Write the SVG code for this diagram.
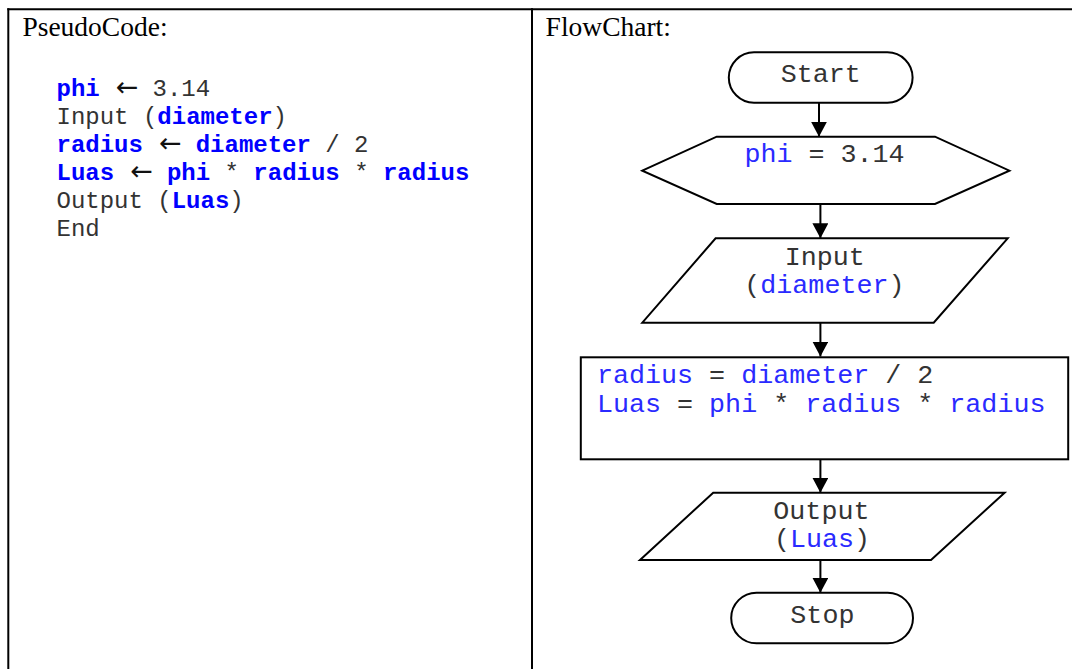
<svg xmlns="http://www.w3.org/2000/svg" width="1072" height="669" viewBox="0 0 1072 669">
<defs>
<style>
.frame{stroke:#000;stroke-width:2;fill:none}
.shape{stroke:#000;stroke-width:2;fill:#fff}
.hdr{font-family:"Liberation Serif","Times New Roman",serif;font-size:27.5px;fill:#000}
.pc{font-family:"Liberation Mono","Courier New",monospace;font-size:24px;fill:#333}
.pb{font-weight:bold;fill:#0000ff}
.arr{font-family:"DejaVu Sans",sans-serif;font-size:27px;fill:#111;text-anchor:middle}
.fc{font-family:"Liberation Mono","Courier New",monospace;font-size:26.7px;fill:#333}
.fcm{text-anchor:middle}
.bl{fill:#2a2aff}
.conn{stroke:#000;stroke-width:2;fill:none}
</style>
<marker id="ah" markerUnits="userSpaceOnUse" markerWidth="16" markerHeight="16" viewBox="0 0 16 16" refX="15" refY="8" orient="auto">
<path d="M0,0 L15,8 L0,16 Z" fill="#000"/>
</marker>
</defs>
<rect width="1072" height="669" fill="#fff"/>
<g id="table">
<line class="frame" x1="7.3" y1="9.3" x2="1072" y2="9.3"/>
<line class="frame" x1="8.3" y1="8.3" x2="8.3" y2="669"/>
<line class="frame" x1="532" y1="8.3" x2="532" y2="669"/>
<text class="hdr" x="22.4" y="35.5">PseudoCode:</text>
<text class="hdr" x="545.6" y="35.5">FlowChart:</text>
</g>
<g id="pseudocode">
<text class="pc" x="56.5" y="95.5"><tspan class="pb">phi</tspan></text>
<text class="arr" x="127.1" y="95.5">←</text>
<text class="pc" x="152.5" y="95.5">3.14</text>
<text class="pc" x="56.5" y="123.5" xml:space="preserve">Input (<tspan class="pb">diameter</tspan>)</text>
<text class="pc" x="56.5" y="151.5"><tspan class="pb">radius</tspan></text>
<text class="arr" x="170.3" y="151.5">←</text>
<text class="pc" x="195.7" y="151.5" xml:space="preserve"><tspan class="pb">diameter</tspan> / 2</text>
<text class="pc" x="56.5" y="179.5"><tspan class="pb">Luas</tspan></text>
<text class="arr" x="141.5" y="179.5">←</text>
<text class="pc" x="166.9" y="179.5" xml:space="preserve"><tspan class="pb">phi</tspan> * <tspan class="pb">radius</tspan> * <tspan class="pb">radius</tspan></text>
<text class="pc" x="56.5" y="207.5" xml:space="preserve">Output (<tspan class="pb">Luas</tspan>)</text>
<text class="pc" x="56.5" y="235.5">End</text>
</g>
<g id="connectors">
<line class="conn" x1="819" y1="102.7" x2="819" y2="136.7" marker-end="url(#ah)"/>
<line class="conn" x1="820.4" y1="204" x2="820.4" y2="238.3" marker-end="url(#ah)"/>
<line class="conn" x1="820.4" y1="322.7" x2="820.4" y2="356.5" marker-end="url(#ah)"/>
<line class="conn" x1="820.4" y1="459.3" x2="820.4" y2="492.7" marker-end="url(#ah)"/>
<line class="conn" x1="820.4" y1="560" x2="820.4" y2="592.7" marker-end="url(#ah)"/>
</g>
<g id="start">
<rect class="shape" x="728.8" y="52.3" width="183.8" height="50.4" rx="25.2" ry="25.2"/>
<text class="fc fcm" x="820.7" y="81.7">Start</text>
</g>
<g id="init">
<polygon class="shape" points="642.3,170.7 716.7,136.7 935,136.7 1009.4,170.7 935,204 716.7,204"/>
<text class="fc fcm" x="824.5" y="161.7" xml:space="preserve"><tspan class="bl">phi</tspan> = 3.14</text>
</g>
<g id="input">
<polygon class="shape" points="715.6,238.3 1007.7,238.3 933.7,322.7 642.3,322.7"/>
<text class="fc fcm" x="824.7" y="265">Input</text>
<text class="fc fcm" x="824.4" y="293.3">(<tspan class="bl">diameter</tspan>)</text>
</g>
<g id="process">
<rect class="shape" x="580.8" y="357.3" width="487.4" height="102"/>
<text class="fc bl" x="597" y="383.3" xml:space="preserve">radius <tspan fill="#333">=</tspan> diameter <tspan fill="#333">/ 2</tspan></text>
<text class="fc bl" x="597" y="411.7" xml:space="preserve">Luas <tspan fill="#333">=</tspan> phi <tspan fill="#333">*</tspan> radius <tspan fill="#333">*</tspan> radius</text>
</g>
<g id="output">
<polygon class="shape" points="713.2,492.7 1004.6,492.7 931,560 640,560"/>
<text class="fc fcm" x="821.4" y="519.3">Output</text>
<text class="fc fcm" x="822" y="547.3">(<tspan class="bl">Luas</tspan>)</text>
</g>
<g id="stop">
<rect class="shape" x="731.2" y="592.7" width="181.8" height="50.6" rx="25.3" ry="25.3"/>
<text class="fc fcm" x="822.4" y="622.7">Stop</text>
</g>
</svg>
